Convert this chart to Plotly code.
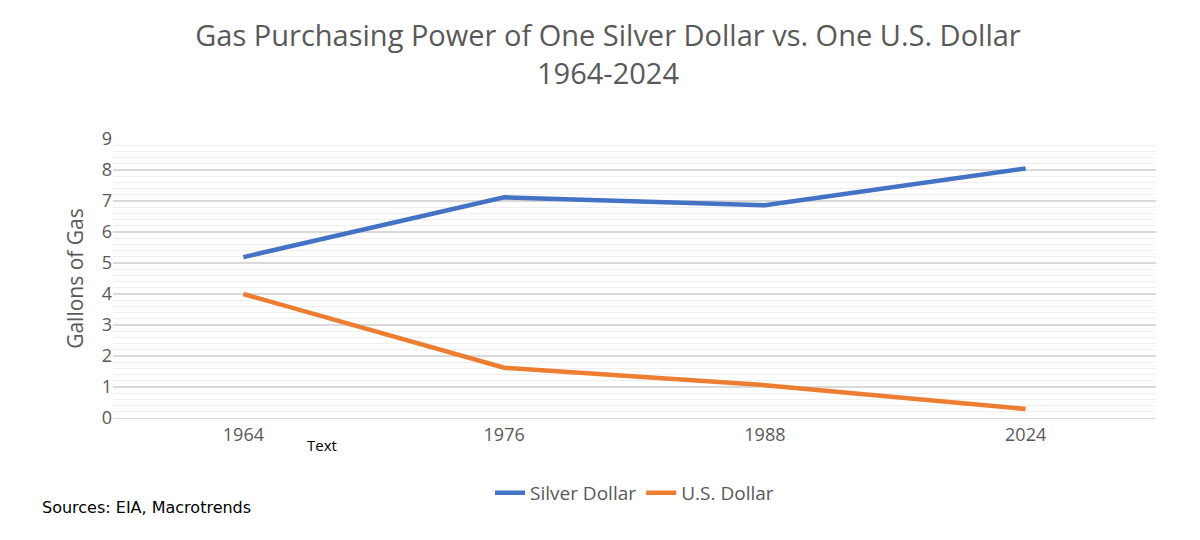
import plotly.graph_objects as go

years = ["1964", "1976", "1988", "2024"]
silver = [5.19, 7.12, 6.86, 8.05]
usd = [4.0, 1.62, 1.06, 0.29]

fig = go.Figure()
fig.add_trace(go.Scatter(x=years, y=silver, mode="lines", name="Silver Dollar",
                         line=dict(color="#4472C4", width=4.5)))
fig.add_trace(go.Scatter(x=years, y=usd, mode="lines", name="U.S. Dollar",
                         line=dict(color="#ED7D31", width=4.5)))
font = "Open Sans, Liberation Sans, sans-serif"
fig.update_layout(
    width=1200, height=540, paper_bgcolor="white", plot_bgcolor="white",
    font=dict(family=font, color="#595959", size=18),
    title=dict(text="Gas Purchasing Power of One Silver Dollar vs. One U.S. Dollar<br>1964-2024",
               x=0.5, xanchor="center", y=0.93, yanchor="top",
               font=dict(size=29, color="#595959")),
    margin=dict(l=105, r=52, t=131, b=130),
    showlegend=True,
    legend=dict(orientation="h", x=0.5, xanchor="center", y=-0.2, yanchor="top",
                font=dict(size=19, color="#595959")),
    xaxis=dict(type="category", range=[-0.5, 3.5], showgrid=False, showline=True,
               linecolor="#D9D9D9", ticks="", tickfont=dict(size=18)),
    yaxis=dict(range=[0, 9], dtick=1, showgrid=True, gridcolor="#D9D9D9", gridwidth=1.5,
               zeroline=False, ticks="", tickfont=dict(size=18),
               title=dict(text="Gallons of Gas", font=dict(size=21), standoff=12),
               minor=dict(dtick=0.2, showgrid=True, gridcolor="#EFEFEF", gridwidth=1)),
    annotations=[
        dict(text="Text", xref="paper", yref="paper", x=0.20, y=-0.097, showarrow=False,
             font=dict(size=15, color="black"), xanchor="center", yanchor="middle"),
        dict(text="Sources: EIA, Macrotrends", xref="paper", yref="paper", x=-0.07, y=-0.32,
             showarrow=False, font=dict(size=16, color="black", family="DejaVu Sans"),
             xanchor="left", yanchor="middle"),
    ],
)
fig.write_html("out.html")
